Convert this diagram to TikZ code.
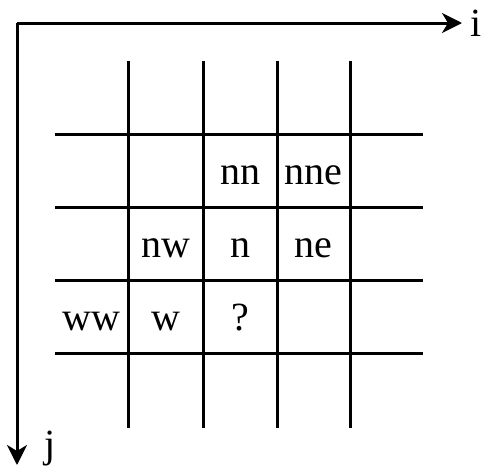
\documentclass[tikz,border=0pt]{standalone}
\usepackage{fontspec}
\setmainfont{Liberation Serif}
\usetikzlibrary{arrows.meta}
\begin{document}
\begin{tikzpicture}[x=1pt,y=-1pt,
  gridline/.style={line width=3pt},
  axis/.style={line width=3pt,-{Stealth[length=20pt,width=20pt,inset=6pt]}},
  lbl/.style={font=\fontsize{40}{48}\selectfont,inner sep=0pt,anchor=base}]
\useasboundingbox (0,0) rectangle (486,469);
% grid
\foreach \x in {128,203,277,350} \draw[gridline] (\x,61) -- (\x,428);
\foreach \y in {134,207,280,353} \draw[gridline] (55,\y) -- (423,\y);
% axes
\coordinate (o) at (17,23);
\coordinate (ie) at (462,23);
\coordinate (je) at (17,465);
\draw[axis] (o) -- (ie);
\draw[axis] (o) -- (je);
\node[lbl] (li) at (476,36) {i};
\node[lbl] (lj) at (50,457) {j};
% labels
\node[lbl] (nn) at (240.5,184) {nn};
\node[lbl] (nne) at (313.5,184) {nne};
\node[lbl] (nw) at (165.5,257) {nw};
\node[lbl] (n) at (240.5,257) {n};
\node[lbl] (ne) at (313.5,257) {ne};
\node[lbl] (ww) at (91.5,330) {ww};
\node[lbl] (w) at (165.5,330) {w};
\node[lbl] (q) at (240.5,330) {?};
\end{tikzpicture}
\end{document}
